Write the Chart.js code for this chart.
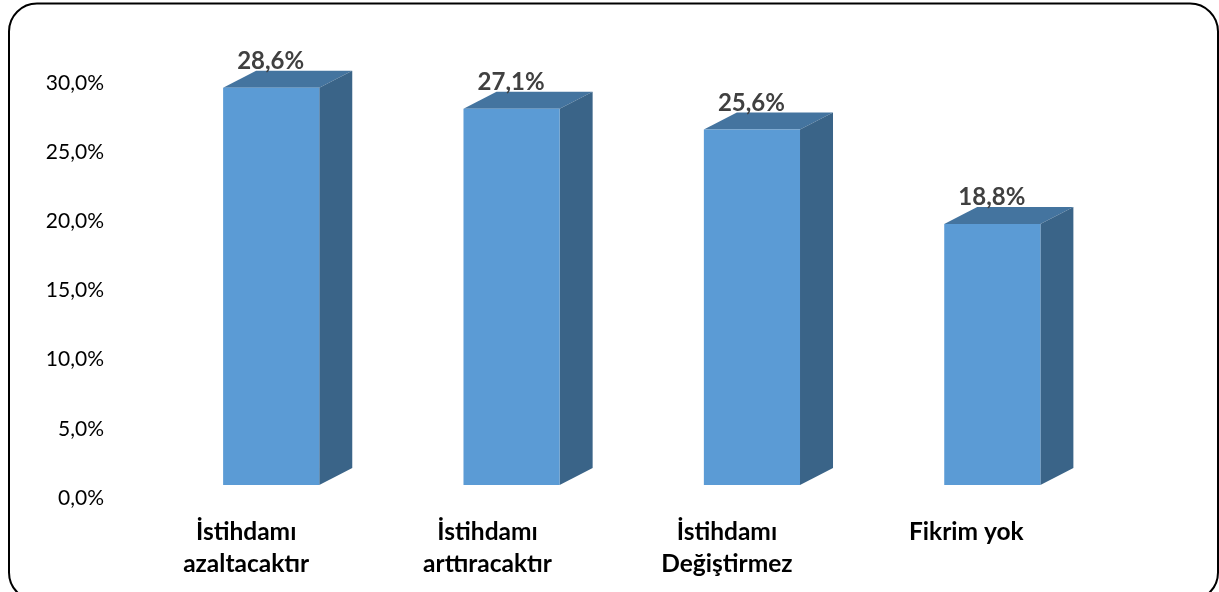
<!DOCTYPE html>
<html>
<head>
<meta charset="utf-8">
<style>html,body{margin:0;padding:0;background:#fff;overflow:hidden}canvas{display:block}</style>
<script src="https://cdn.jsdelivr.net/npm/chart.js@4"></script>
</head>
<body>
<canvas id="c" width="1219" height="592"></canvas>
<script>
const categories = [["İstihdamı","azaltacaktır"],["İstihdamı","arttıracaktır"],["İstihdamı","Değiştirmez"],["Fikrim yok"]];
const values = [28.6, 27.1, 25.6, 18.8];
const valueLabels = ["28,6%","27,1%","25,6%","18,8%"];
const labelShift = [-25, -24, -25, -26];
const FONT = "Lato, Carlito, sans-serif";
const DEPTH_X = 33, DEPTH_Y = -17;

const frame3d = {
  id: "frame3d",
  beforeDatasetsDraw(chart) {
    const ctx = chart.ctx;
    ctx.save();
    chart.getDatasetMeta(0).data.forEach(b => {
      const l = b.x - b.width / 2, r = b.x + b.width / 2, t = b.y, bt = b.base;
      ctx.fillStyle = "#44749F";
      ctx.beginPath();
      ctx.moveTo(l, t); ctx.lineTo(l + DEPTH_X, t + DEPTH_Y);
      ctx.lineTo(r + DEPTH_X, t + DEPTH_Y); ctx.lineTo(r, t);
      ctx.closePath(); ctx.fill();
      ctx.fillStyle = "#3A6488";
      ctx.beginPath();
      ctx.moveTo(r, t); ctx.lineTo(r + DEPTH_X, t + DEPTH_Y);
      ctx.lineTo(r + DEPTH_X, bt + DEPTH_Y); ctx.lineTo(r, bt);
      ctx.closePath(); ctx.fill();
    });
    ctx.restore();
  },
  afterDraw(chart) {
    const ctx = chart.ctx, xs = chart.scales.x;
    ctx.save();
    // rounded outer frame
    ctx.strokeStyle = "#000"; ctx.lineWidth = 2;
    ctx.beginPath(); ctx.roundRect(9, 3.5, 1209, 597, 28); ctx.stroke();
    ctx.textAlign = "center"; ctx.textBaseline = "middle";
    // value labels
    ctx.font = "bold 24px " + FONT; ctx.fillStyle = "#404040";
    chart.getDatasetMeta(0).data.forEach((b, i) => {
      ctx.fillText(valueLabels[i], b.x - 0.5, b.y - 26.5);
    });
    // category labels
    ctx.font = "bold 24.5px " + FONT; ctx.fillStyle = "#000";
    categories.forEach((lines, i) => {
      const x = xs.getPixelForTick(i) + labelShift[i];
      lines.forEach((t, j) => ctx.fillText(t, x, 532 + j * 32));
    });
    ctx.restore();
  }
};

new Chart(document.getElementById("c"), {
  type: "bar",
  data: {
    labels: categories,
    datasets: [{
      data: values,
      yAxisID: "y",
      backgroundColor: "#5B9BD5",
      borderWidth: 0,
      barPercentage: 0.4,
      categoryPercentage: 1
    }]
  },
  plugins: [frame3d],
  options: {
    responsive: false,
    animation: false,
    devicePixelRatio: 1,
    layout: { padding: { left: 0, right: 106.5, top: 83, bottom: 86 } },
    plugins: { legend: { display: false }, tooltip: { enabled: false }, title: { display: false } },
    scales: {
      x: {
        grid: { display: false },
        border: { display: false },
        ticks: { display: false }
      },
      // bars stand on the floor of the 3D box, 13px above the zero tick label
      y: {
        display: false,
        min: -0.94,
        max: 28.95
      },
      yLabels: {
        position: "left",
        min: 0,
        max: 30,
        grid: { display: false },
        border: { display: false },
        afterFit(s) { s.width = 151; },
        ticks: {
          stepSize: 5,
          padding: 39,
          color: "#000",
          font: { family: FONT, size: 21 },
          callback: v => v.toFixed(1).replace(".", ",") + "%"
        }
      }
    }
  }
});
</script>
</body>
</html>
